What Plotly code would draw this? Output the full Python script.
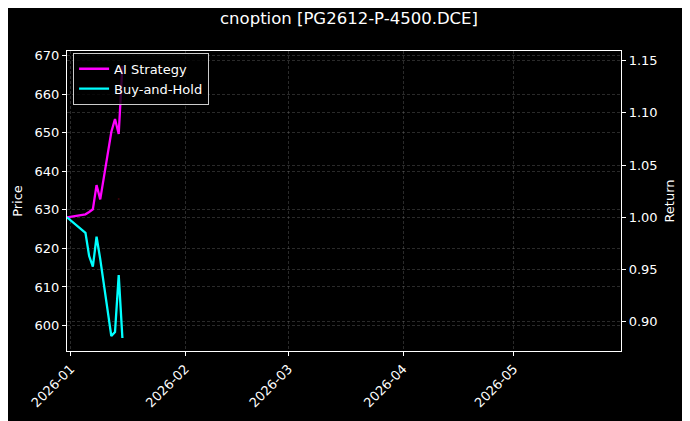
"""Dark-theme strategy vs buy-and-hold chart for a single option contract."""

import plotly.graph_objects as go

# Trading dates (Chinese exchange calendar, New Year holiday skipped)
dates = [
    "2025-12-31", "2026-01-05", "2026-01-06", "2026-01-07", "2026-01-08",
    "2026-01-09", "2026-01-12", "2026-01-13", "2026-01-14", "2026-01-15",
]

# Cumulative returns
ai_strategy = [1.000, 1.0029, 1.0051, 1.0077, 1.0309, 1.0172, 1.0817, 1.0942, 1.0798, 1.1449]
buy_and_hold = [1.000, 0.9852, 0.9629, 0.9527, 0.9814, 0.9600, 0.8863, 0.8902, 0.9447, 0.8844]

# The only visible trace of the price series (a faint point)
price_dates = ["2026-01-14"]
price_values = [632.85]

month_ticks = ["2026-01-01", "2026-02-01", "2026-03-01", "2026-04-01", "2026-05-01"]
month_labels = ["2026-01", "2026-02", "2026-03", "2026-04", "2026-05"]

FONT = "DejaVu Sans"
GRID = "rgba(150,150,150,0.28)"

# the page body adds an 8px margin, so the figure is drawn 8px smaller
W, H = 682, 413


def build_chart():
    fig = go.Figure()

    fig.add_trace(go.Scatter(
        x=price_dates, y=price_values, name="Price",
        mode="markers", marker=dict(color="#3a0008", size=2),
        showlegend=False, yaxis="y",
    ))
    fig.add_trace(go.Scatter(
        x=dates, y=ai_strategy, name="AI Strategy",
        mode="lines", line=dict(color="#ff00ff", width=2.3), yaxis="y2",
    ))
    fig.add_trace(go.Scatter(
        x=dates, y=buy_and_hold, name="Buy-and-Hold",
        mode="lines", line=dict(color="#00ffff", width=2.3), yaxis="y2",
    ))

    axis_common = dict(
        showline=True, linecolor="white", linewidth=1.2,
        ticks="outside", ticklen=4, tickcolor="white", tickwidth=1,
        tickfont=dict(family=FONT, size=13, color="white"),
        showgrid=True, gridcolor=GRID, gridwidth=0.5, griddash="3px,2px",
        zeroline=False, automargin=False,
    )

    fig.update_layout(
        width=W, height=H,
        paper_bgcolor="black", plot_bgcolor="black",
        margin=dict(l=59, r=69, t=43, b=70),
        title=dict(
            text="cnoption [PG2612-P-4500.DCE]",
            x=0.5, xanchor="center", y=0.976, yanchor="middle",
            font=dict(family=FONT, size=16.5, color="white"),
        ),
        xaxis=dict(
            **axis_common,
            mirror=True,
            range=["2025-12-31", "2026-05-30"],
            tickmode="array", tickvals=month_ticks, ticktext=month_labels,
            tickangle=-45,
        ),
        yaxis=dict(
            **axis_common,
            range=[593.4, 671.2],
            tickmode="array", tickvals=list(range(600, 671, 10)),
            title=dict(text="Price", font=dict(family=FONT, size=13, color="white"), standoff=8),
        ),
        yaxis2=dict(
            **axis_common,
            overlaying="y", side="right",
            range=[0.872, 1.1593],
            tickmode="array", tickvals=[0.90, 0.95, 1.00, 1.05, 1.10, 1.15],
            tickformat=".2f",
            title=dict(text="Return", font=dict(family=FONT, size=13, color="white"), standoff=8),
        ),
        legend=dict(
            x=0.011, y=0.994, xanchor="left", yanchor="top",
            bgcolor="rgba(0,0,0,0.8)", bordercolor="#cccccc", borderwidth=1,
            font=dict(family=FONT, size=13, color="white"),
            tracegroupgap=2,
        ),
        showlegend=True,
    )

    fig.write_html("out.html")
    return fig


if __name__ == "__main__":
    build_chart()
